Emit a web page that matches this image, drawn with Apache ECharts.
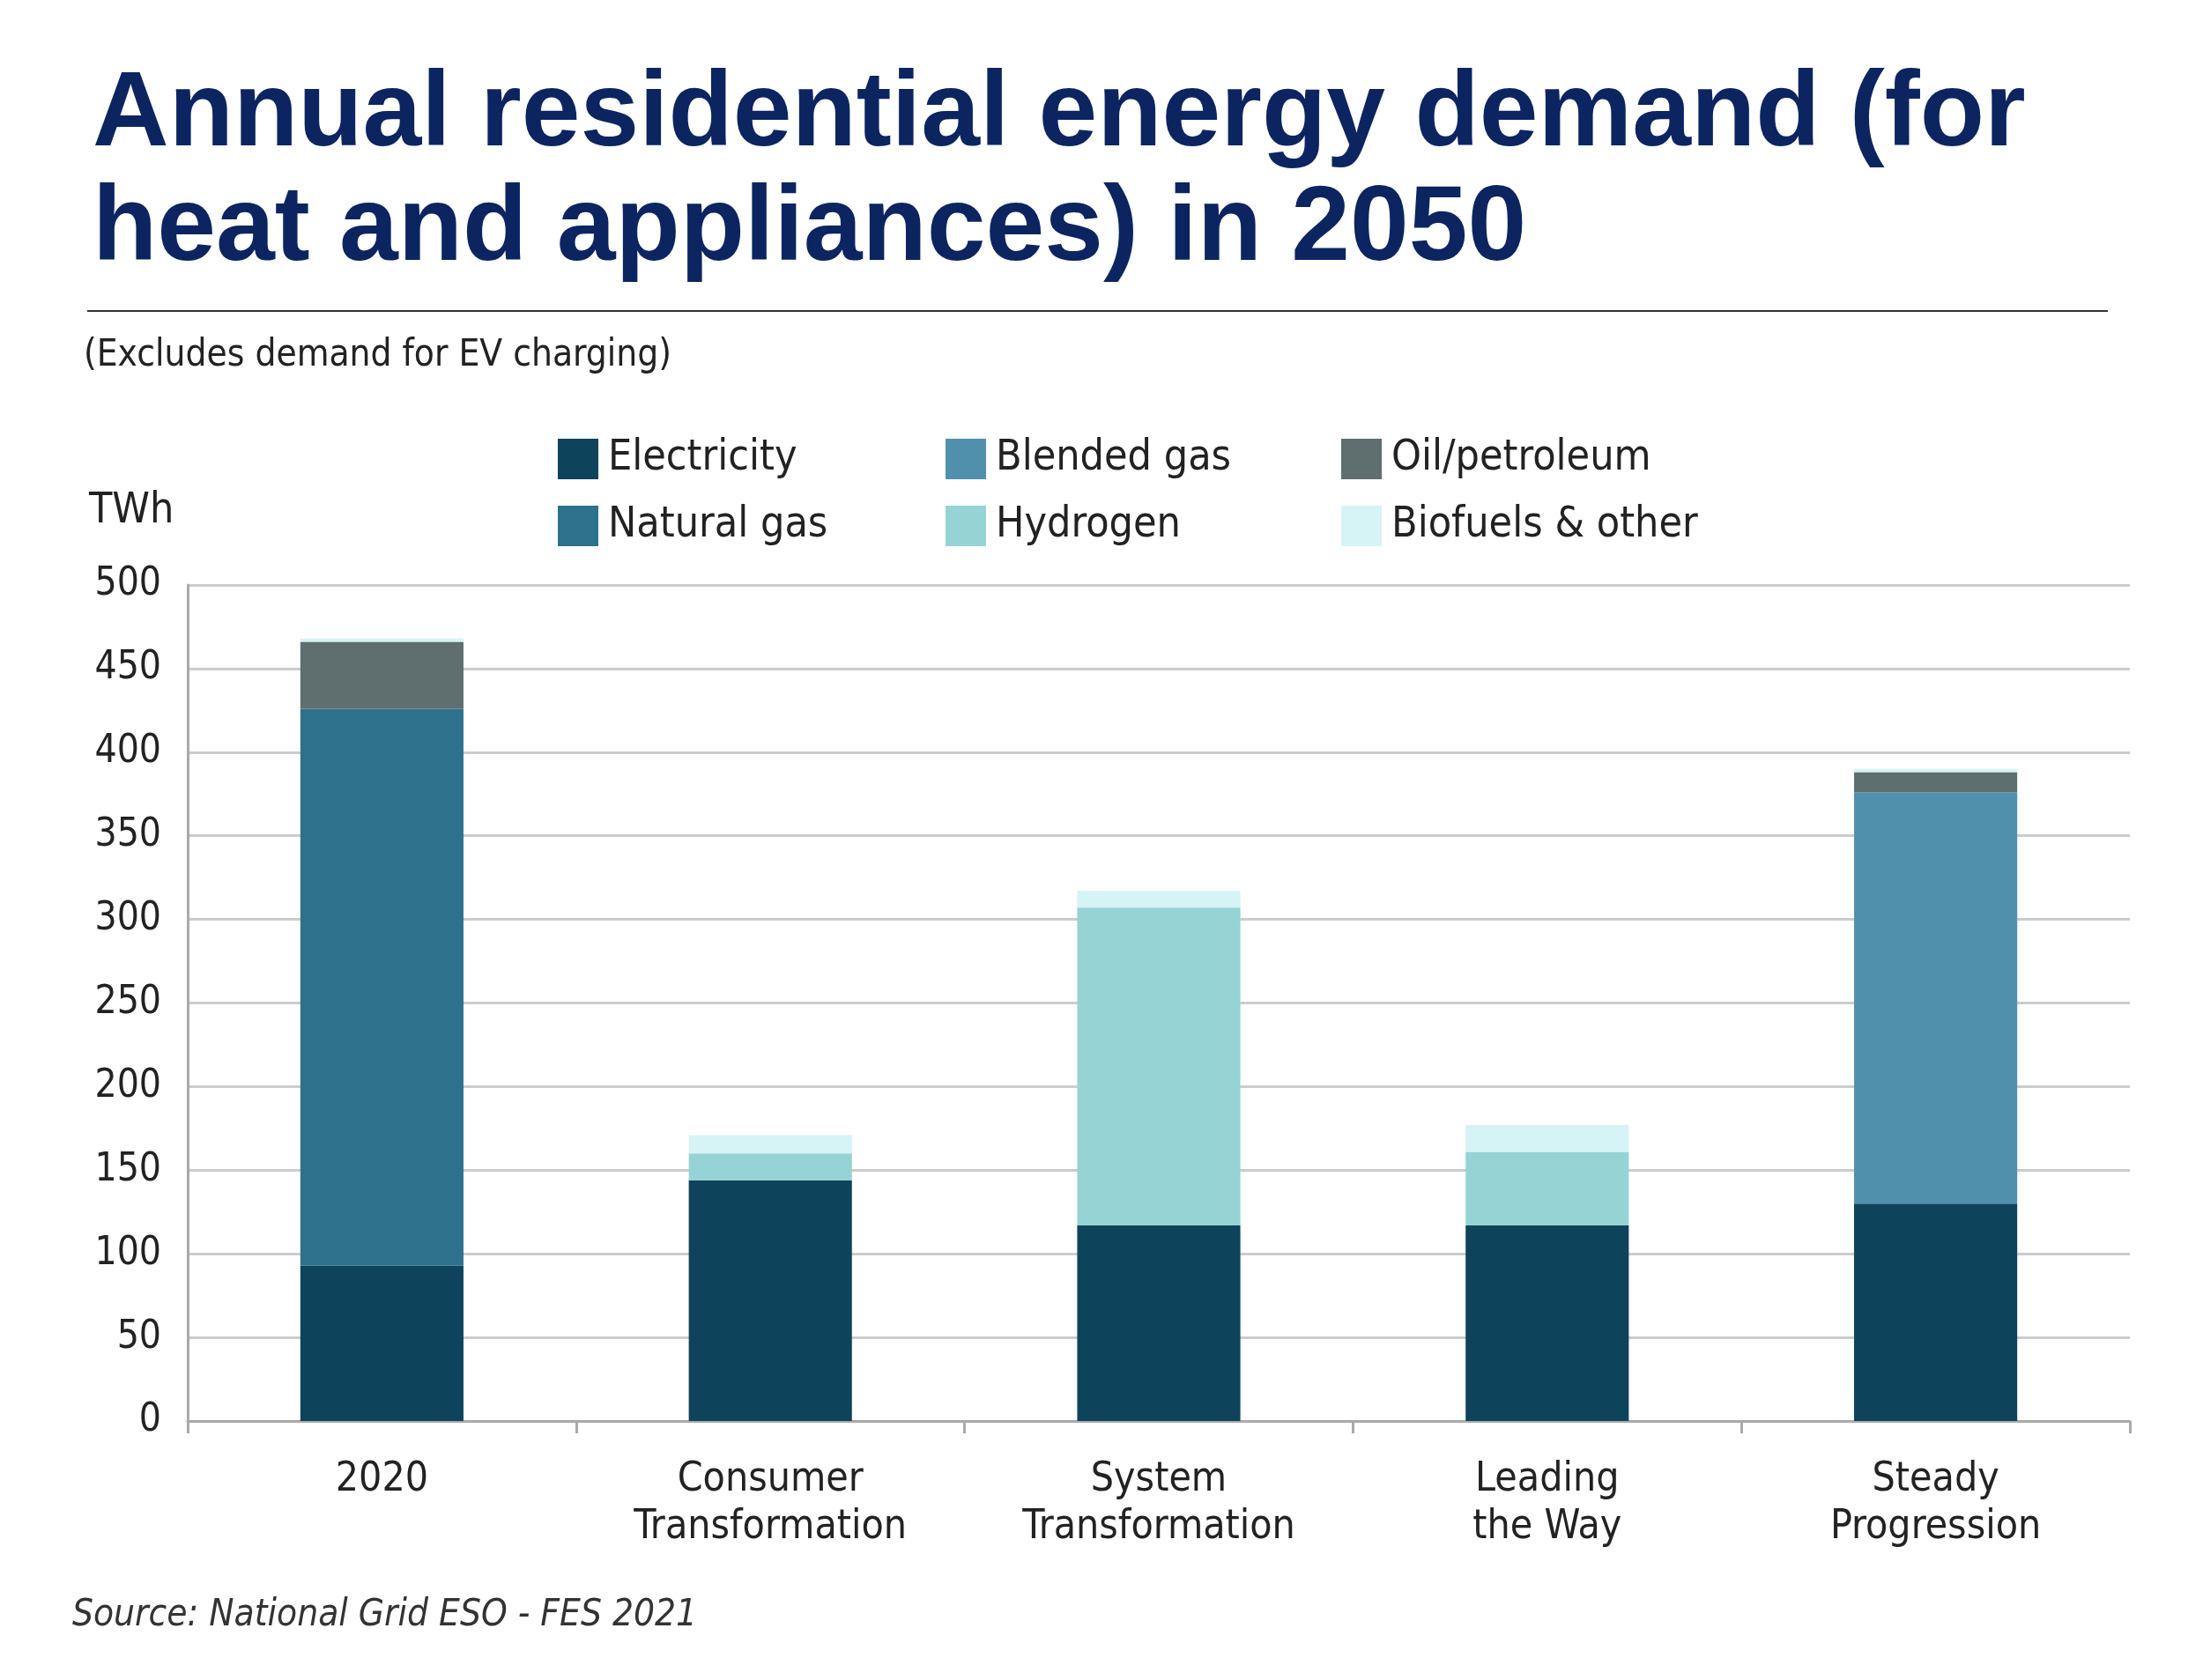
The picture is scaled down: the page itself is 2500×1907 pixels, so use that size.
<!DOCTYPE html>
<html>
<head>
<meta charset="utf-8">
<script src="https://cdn.jsdelivr.net/npm/echarts@6/dist/echarts.min.js"></script>
<style>
  html, body { margin: 0; padding: 0; background: #fff; }
  #chart { width: 2500px; height: 1907px; }
</style>
</head>
<body>
<div id="chart"></div>
<script>
// scenarios and values (TWh)
var categories = ['2020', 'Consumer\nTransformation', 'System\nTransformation', 'Leading\nthe Way', 'Steady\nProgression'];
var electricity = [93, 144, 117, 117, 130];
var natural_gas = [333, 0, 0, 0, 0];
var blended_gas = [0, 0, 0, 0, 246];
var hydrogen = [0, 16, 190, 44, 0];
var oil_petroleum = [40, 0, 0, 0, 12];
var biofuels_other = [2, 11, 10, 16, 2];
var y_ticks = [0, 50, 100, 150, 200, 250, 300, 350, 400, 450, 500];

var label_font = 'DejaVu Sans Condensed';
var series_list = [
    ['Electricity', electricity, '#0e435c'],
    ['Natural gas', natural_gas, '#2e718c'],
    ['Blended gas', blended_gas, '#5190ad'],
    ['Hydrogen', hydrogen, '#96d3d4'],
    ['Oil/petroleum', oil_petroleum, '#5f6e6e'],
    ['Biofuels & other', biofuels_other, '#d6f3f5']
];

function legend_col(names, left) {
    return {
        data: names, orient: 'vertical', left: left, top: 492, itemGap: 28,
        itemWidth: 46, itemHeight: 46, icon: 'rect',
        textStyle: {fontSize: 48, color: '#222', fontFamily: label_font, padding: [0, 0, 0, 6]}
    };
}

var chart = echarts.init(document.getElementById('chart'));
var option = {
    animation: false,
    title: [
        {
            text: 'Annual residential energy demand (for\nheat and appliances) in 2050',
            left: 100, top: 62,
            textStyle: {fontSize: 120, fontWeight: 'bold', color: '#0c2561', fontFamily: 'Liberation Sans', lineHeight: 130}
        },
        {
            text: '(Excludes demand for EV charging)', left: 90, top: 378,
            textStyle: {fontSize: 42, fontWeight: 'normal', color: '#222', fontFamily: label_font}
        },
        {
            text: 'TWh', left: 96, top: 552,
            textStyle: {fontSize: 48, fontWeight: 'normal', color: '#222', fontFamily: label_font}
        },
        {
            text: 'Source: National Grid ESO - FES 2021', left: 77, top: 1808,
            textStyle: {fontSize: 42, fontWeight: 'normal', fontStyle: 'italic', color: '#333', fontFamily: label_font}
        }
    ],
    graphic: [{
        type: 'line', shape: {x1: 99, y1: 353, x2: 2392, y2: 353},
        style: {stroke: '#333', lineWidth: 2}
    }],
    legend: [
        legend_col(['Electricity', 'Natural gas'], 628),
        legend_col(['Blended gas', 'Hydrogen'], 1068),
        legend_col(['Oil/petroleum', 'Biofuels & other'], 1517)
    ],
    grid: {left: 213, right: 83, top: 664, bottom: 294},
    xAxis: {
        type: 'category', data: categories,
        axisLine: {lineStyle: {color: '#aaa', width: 3}},
        axisTick: {show: true, length: 14, lineStyle: {color: '#aaa', width: 3}},
        axisLabel: {fontSize: 46, color: '#222', fontFamily: label_font, margin: 40, lineHeight: 54}
    },
    yAxis: {
        type: 'value', min: y_ticks[0], max: y_ticks[y_ticks.length - 1], interval: 50,
        axisLine: {show: true, lineStyle: {color: '#aaa', width: 3}},
        splitLine: {lineStyle: {color: '#ccc', width: 3}},
        axisLabel: {fontSize: 44, color: '#222', fontFamily: label_font, margin: 30}
    },
    series: series_list.map(function (s) {
        return {
            name: s[0], type: 'bar', stack: 'total', data: s[1], barWidth: '42%',
            itemStyle: {color: s[2]}
        };
    })
};
chart.setOption(option);
</script>
</body>
</html>
